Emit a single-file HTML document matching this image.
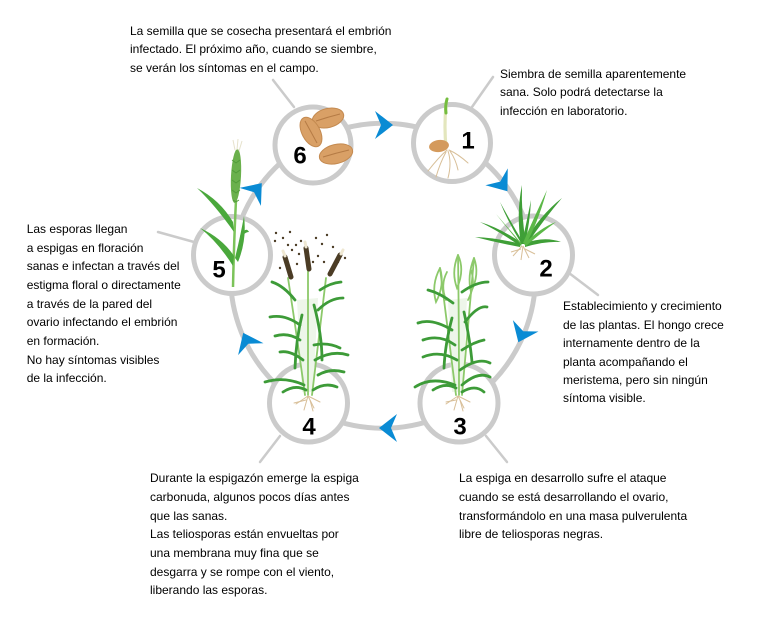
<!DOCTYPE html>
<html><head><meta charset="utf-8">
<style>
html,body{margin:0;padding:0;background:#fff;}
body{width:766px;height:623px;position:relative;overflow:hidden;font-family:"Liberation Sans",Arial,sans-serif;}
.t{position:absolute;font-size:12px;line-height:18.7px;color:#000;white-space:nowrap;}
svg{position:absolute;left:0;top:0;}
</style></head><body>
<svg width="766" height="623" viewBox="0 0 766 623" xmlns="http://www.w3.org/2000/svg">
<!-- leader lines -->
<g stroke="#cbcbcb" stroke-width="2.5" fill="none" stroke-linecap="round">
<line x1="273" y1="80" x2="294" y2="107"/>
<line x1="493" y1="77" x2="472" y2="107"/>
<line x1="569" y1="273" x2="598" y2="295"/>
<line x1="486" y1="436" x2="507" y2="462"/>
<line x1="280" y1="436" x2="260" y2="462"/>
<line x1="158" y1="232" x2="194" y2="242"/>
</g>
<!-- ring -->
<circle cx="383" cy="275.8" r="152.5" fill="none" stroke="#cbcbcb" stroke-width="5"/>
<!-- nodes -->
<g fill="#fff" stroke="#cbcbcb" stroke-width="5">
<circle cx="313" cy="145" r="38"/>
<circle cx="452" cy="143" r="38.5"/>
<circle cx="533.5" cy="255" r="39"/>
<circle cx="459" cy="403" r="39"/>
<circle cx="308.5" cy="403" r="39"/>
<circle cx="232" cy="255" r="38.5"/>
</g>
<!-- arrows -->
<g fill="#0a8bd4">
<path d="M9,0 L-9,-14 L-3,0 L-9,14 Z" transform="translate(384,125) rotate(0)"/>
<path d="M9,0 L-9,-14 L-3,0 L-9,14 Z" transform="translate(502,184) rotate(53)"/>
<path d="M9,0 L-9,-14 L-3,0 L-9,14 Z" transform="translate(522,334) rotate(114)"/>
<path d="M9,0 L-9,-14 L-3,0 L-9,14 Z" transform="translate(388,428) rotate(180)"/>
<path d="M9,0 L-9,-14 L-3,0 L-9,14 Z" transform="translate(247,341) rotate(245)"/>
<path d="M9,0 L-9,-14 L-3,0 L-9,14 Z" transform="translate(256,190) rotate(-50)"/>
</g>

<!-- seeds node 6 -->
<g>
<ellipse cx="328" cy="118" rx="16" ry="9.5" transform="rotate(-14 328 118)" fill="#d9a066" stroke="#c48a50" stroke-width="1"/>
<path d="M316,121 Q328,117 340,114" stroke="#b57b45" stroke-width="1" fill="none"/>
<ellipse cx="311" cy="132" rx="16" ry="9" transform="rotate(62 311 132)" fill="#d9a066" stroke="#c48a50" stroke-width="1"/>
<path d="M305,121 Q311,132 317,143" stroke="#b57b45" stroke-width="1" fill="none"/>
<ellipse cx="336" cy="154" rx="17" ry="9.5" transform="rotate(-14 336 154)" fill="#d9a066" stroke="#c48a50" stroke-width="1"/>
<path d="M323,157 Q336,153 349,150" stroke="#b57b45" stroke-width="1" fill="none"/>
</g>

<!-- seedling node 1 -->
<g fill="none" stroke-linecap="round">
<path d="M446,148 Q444,125 446,106" stroke="#e3e6bd" stroke-width="3.2"/>
<path d="M446,113 Q445,106 447,99" stroke="#74bd3e" stroke-width="3"/>
<g stroke="#d8bf98" stroke-width="1">
<path d="M447,150 Q438,158 428,171"/>
<path d="M448,151 Q452,163 448,178"/>
<path d="M449,150 Q458,154 468,163"/>
<path d="M446,152 Q440,163 436,177"/>
<path d="M450,151 Q456,160 458,170"/>
</g>
</g>
<ellipse cx="439" cy="146" rx="10" ry="6" transform="rotate(-8 439 146)" fill="#d49a5c"/>

<!-- grass node 2 -->
<g fill="#3f9f37">
<path d="M521,244 Q516,214 522,185 Q521,214 526,244 Z"/>
<path d="M524,243 Q540,215 562,198 Q545,218 527,244 Z"/>
<path d="M522,243 Q500,228 480,222 Q502,233 520,246 Z"/>
<path d="M521,244 Q498,238 475,237 Q498,243 520,247 Z"/>
<path d="M525,243 Q545,236 561,242 Q545,241 525,247 Z"/>
<path d="M522,243 Q527,220 531,200 Q530,222 525,244 Z"/>
<path d="M521,243 Q508,222 500,202 Q512,224 524,244 Z"/>
<path d="M523,243 Q532,222 547,190 Q537,225 526,244 Z" fill="#5bb847"/>
<path d="M521,243 Q510,230 496,214 Q512,234 522,246 Z" fill="#5bb847"/>
<path d="M524,244 Q540,228 556,222 Q542,232 526,246 Z" fill="#5bb847"/>
</g>
<g stroke="#d8bf98" stroke-width="1" fill="none">
<path d="M522,246 l-9,10"/><path d="M523,246 l6,12"/><path d="M523,246 l-2,14"/><path d="M521,249 l-10,3"/><path d="M525,249 l10,5"/>
</g>

<!-- plant 3 -->
<path d="M448,300 L467,298 L463,392 L452,392 Z" fill="#eef6ea"/>
<g fill="none" stroke-linecap="round">
<g stroke="#8cc96a" stroke-width="1.8">
<path d="M456,395 Q448,330 440,268"/>
<path d="M459,395 Q459,320 458,255"/>
<path d="M462,395 Q468,330 474,258"/>
<path d="M440,268 Q431,285 436,302 Q445,285 440,268"/>
<path d="M458,255 Q451,272 457,288 Q465,270 458,255"/>
<path d="M474,258 Q467,276 471,292 Q480,274 474,258"/>
<path d="M446,300 Q440,285 447,272"/>
<path d="M468,300 Q476,285 471,270"/>
</g>
<g stroke="#3d9b38" stroke-width="2.8">
<path d="M452,330 Q432,318 418,323"/>
<path d="M455,345 Q440,334 423,340"/>
<path d="M455,385 Q432,376 415,387"/>
<path d="M460,370 Q478,357 490,363"/>
<path d="M465,322 Q478,305 487,307"/>
<path d="M462,385 Q478,371 490,377"/>
<path d="M453,303 Q440,293 428,290"/>
<path d="M462,292 Q476,282 488,282"/>
<path d="M457,360 Q440,350 423,357"/>
<path d="M462,350 Q474,342 484,340"/>
<path d="M452,318 Q445,345 444,368"/>
<path d="M464,312 Q470,340 472,362"/>
<path d="M456,388 Q445,382 433,390"/>
<path d="M462,392 Q475,384 484,392"/>
</g>
<g stroke="#d8bf98" stroke-width="1">
<path d="M458,396 l-12,8"/><path d="M458,396 l-4,14"/><path d="M458,396 l6,12"/><path d="M458,396 l12,6"/><path d="M456,400 l-10,2"/><path d="M460,400 l3,11"/>
</g>
</g>

<!-- plant 4 -->
<path d="M297,300 L318,298 L313,392 L302,392 Z" fill="#eef6ea"/>
<g fill="none" stroke-linecap="round">
<g stroke="#8cc96a" stroke-width="1.8">
<path d="M305,395 Q296,330 288,278"/>
<path d="M308,395 Q308,330 308,270"/>
<path d="M312,395 Q320,330 326,278"/>
</g>
<g stroke="#3d9b38" stroke-width="2.8">
<path d="M295,300 Q284,286 272,282"/>
<path d="M300,325 Q285,314 270,317"/>
<path d="M304,385 Q285,376 265,382"/>
<path d="M303,360 Q290,350 280,352"/>
<path d="M315,360 Q332,350 348,355"/>
<path d="M318,310 Q330,298 343,298"/>
<path d="M314,345 Q328,342 340,348"/>
<path d="M313,390 Q325,382 337,387"/>
<path d="M320,290 Q330,283 341,282"/>
<path d="M300,340 Q288,332 275,336"/>
<path d="M302,315 Q296,340 295,368"/>
<path d="M314,305 Q322,335 322,360"/>
<path d="M306,390 Q295,384 283,392"/>
<path d="M318,375 Q330,368 344,372"/>
</g>
<g stroke="#d8bf98" stroke-width="1">
<path d="M308,396 l-12,8"/><path d="M308,396 l-4,14"/><path d="M308,396 l6,12"/><path d="M308,396 l12,6"/><path d="M306,400 l-12,3"/><path d="M310,400 l3,11"/>
</g>
<g stroke="#4b3c25" stroke-width="5">
<path d="M285,257 L291,277"/>
<path d="M306,248 L309,269"/>
<path d="M340,255 L330,274"/>
</g>
<g stroke="#efe8d2" stroke-width="3">
<path d="M283,251 L285,256"/>
<path d="M305,242 L306,247"/>
<path d="M343,250 L341,254"/>
</g>
</g>
<g fill="#4b3c25">
<circle cx="276" cy="233" r="1.2"/><circle cx="275" cy="241" r="1.2"/><circle cx="283" cy="238" r="1.2"/><circle cx="288" cy="245" r="1.2"/><circle cx="292" cy="250" r="1.2"/><circle cx="296" cy="245" r="1.2"/><circle cx="299" cy="254" r="1.2"/><circle cx="280" cy="268" r="1.2"/><circle cx="297" cy="264" r="1.2"/><circle cx="316" cy="238" r="1.2"/><circle cx="322" cy="244" r="1.2"/><circle cx="327" cy="235" r="1.2"/><circle cx="318" cy="256" r="1.2"/><circle cx="333" cy="247" r="1.2"/><circle cx="338" cy="262" r="1.2"/><circle cx="345" cy="258" r="1.2"/><circle cx="324" cy="262" r="1.2"/><circle cx="313" cy="262" r="1.2"/><circle cx="290" cy="232" r="1.2"/><circle cx="301" cy="241" r="1.2"/>
</g>

<!-- plant 5 wheat -->
<path d="M233,287 Q234,240 236,200" stroke="#7cc35a" stroke-width="2.5" fill="none"/>
<g fill="#4aa83c">
<path d="M234,232 Q215,205 197,188 Q220,200 233,222 Z"/>
<path d="M233,266 Q218,242 200,228 Q222,238 234,256 Z"/>
<path d="M235,258 Q240,238 244,216 Q247,240 238,262 Z"/>
<path d="M240,236 Q246,226 249,232 Q244,232 240,240 Z"/>
</g>
<ellipse cx="236" cy="176" rx="5" ry="27" transform="rotate(3 236 176)" fill="#6ab04c"/>
<g stroke="#4f9a38" stroke-width="0.8" fill="none">
<path d="M232,160 l4,3 l4,-3"/><path d="M232,170 l4,3 l4,-3"/><path d="M232,180 l4,3 l4,-3"/><path d="M232,190 l4,3 l4,-3"/><path d="M233,200 l3,2 l3,-2"/>
</g>
<g stroke="#e6e2cc" stroke-width="1" fill="none">
<path d="M235,150 L233,140"/><path d="M237,150 L238,139"/><path d="M239,151 L242,141"/>
</g>

<!-- numbers -->
<g font-family="Liberation Sans, Arial, sans-serif" font-weight="bold" font-size="24" fill="#000" text-anchor="middle">
<text x="300" y="163.5">6</text>
<text x="468" y="148.5">1</text>
<text x="546" y="276.5">2</text>
<text x="460" y="434.5">3</text>
<text x="309" y="434.5">4</text>
<text x="219" y="277.5">5</text>
</g>
</svg>

<div class="t" style="left:130px;top:21.5px;">La semilla que se cosecha presentará el embrión<br>infectado. El próximo año, cuando se siembre,<br>se verán los síntomas en el campo.</div>
<div class="t" style="left:500px;top:65px;line-height:18.4px;">Siembra de semilla aparentemente<br>sana. Solo podrá detectarse la<br>infección en laboratorio.</div>
<div class="t" style="left:563px;top:297.3px;line-height:18.4px;">Establecimiento y crecimiento<br>de las plantas. El hongo crece<br>internamente dentro de la<br>planta acompañando el<br>meristema, pero sin ningún<br>síntoma visible.</div>
<div class="t" style="left:459px;top:469.2px;">La espiga en desarrollo sufre el ataque<br>cuando se está desarrollando el ovario,<br>transformándolo en una masa pulverulenta<br>libre de teliosporas negras.</div>
<div class="t" style="left:150px;top:469.2px;">Durante la espigazón emerge la espiga<br>carbonuda, algunos pocos días antes<br>que las sanas.<br>Las teliosporas están envueltas por<br>una membrana muy fina que se<br>desgarra y se rompe con el viento,<br>liberando las esporas.</div>
<div class="t" style="left:26.7px;top:219.8px;">Las esporas llegan<br>a espigas en floración<br>sanas e infectan a través del<br>estigma floral o directamente<br>a través de la pared del<br>ovario infectando el embrión<br>en formación.<br>No hay síntomas visibles<br>de la infección.</div>
</body></html>
